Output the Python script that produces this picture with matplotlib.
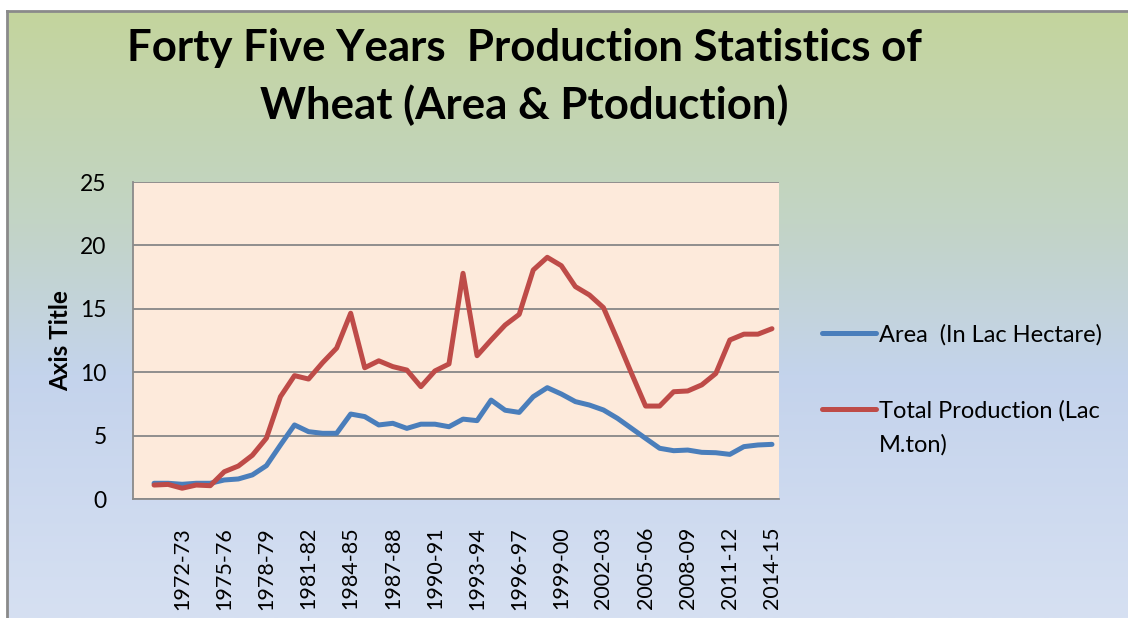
import numpy as np
import matplotlib.pyplot as plt
from matplotlib.colors import LinearSegmentedColormap

years = [f"{y}-{str(y + 1)[-2:]}" for y in range(1970, 2015)]

area = [1.24, 1.24, 1.16, 1.24, 1.24, 1.5, 1.58, 1.9, 2.63, 4.26,
        5.84, 5.31, 5.18, 5.18, 6.7, 6.5, 5.84, 5.97, 5.57, 5.9,
        5.9, 5.7, 6.3, 6.18, 7.8, 7.0, 6.83, 8.07, 8.78, 8.28,
        7.68, 7.41, 7.02, 6.36, 5.57, 4.78, 4.0, 3.81, 3.86, 3.68,
        3.65, 3.52, 4.13, 4.26, 4.31]

production = [1.1, 1.15, 0.85, 1.1, 1.05, 2.15, 2.6, 3.45, 4.8, 8.07,
              9.73, 9.46, 10.75, 11.9, 14.65, 10.35, 10.9, 10.44, 10.17, 8.86,
              10.1, 10.65, 17.8, 11.3, 12.54, 13.72, 14.56, 18.06, 19.06, 18.4,
              16.75, 16.09, 15.09, 12.54, 9.9, 7.33, 7.33, 8.46, 8.52, 9.0,
              9.9, 12.54, 13.0, 13.0, 13.43]

yticks = [0, 5, 10, 15, 20, 25]

font = "Lato"
fig = plt.figure(figsize=(11.28, 6.18), dpi=100)

# gradient background of the chart area
bg = fig.add_axes([7 / 1128, 0, 1 - 7 / 1128, 1 - 11 / 618], zorder=-10)
cmap = LinearSegmentedColormap.from_list(
    "bg", [(0.0, "#c4d59d"), (0.35, "#c2d4c6"), (0.6, "#c4d3ec"), (1.0, "#d6e0f2")])
bg.imshow(np.linspace(0, 1, 256).reshape(-1, 1), aspect="auto", cmap=cmap,
          extent=[0, 1, 0, 1], origin="upper")
bg.set_xticks([])
bg.set_yticks([])
for side in ["right", "bottom"]:
    bg.spines[side].set_visible(False)
for side in ["left", "top"]:
    bg.spines[side].set_color("#8a8a8a")
    bg.spines[side].set_linewidth(2)

ax = fig.add_axes([133 / 1128, 1 - 499 / 618, (779 - 133) / 1128, (499 - 182) / 618])
ax.set_facecolor("#fdeadb")
x = np.arange(1, len(years) + 1)
ax.plot(x, area, color="#4a7ebb", lw=3.6, solid_capstyle="round",
        label="Area  (In Lac Hectare)")
ax.plot(x, production, color="#be4b48", lw=3.6, solid_capstyle="round",
        label="Total Production (Lac")

ax.set_xlim(-0.5, len(years) + 0.5)
ax.set_ylim(0, 25)
ax.set_yticks(yticks)
ax.set_yticklabels([str(v) for v in yticks], fontsize=16.5, family=font)
tick_pos = x[2::3]
ax.set_xticks(tick_pos)
ax.set_xticklabels([years[i - 1] for i in tick_pos], rotation=90,
                   fontsize=15.5, family=font)
ax.tick_params(length=0)
ax.tick_params(axis="x", pad=20)
ax.tick_params(axis="y", pad=19)
ax.grid(axis="y", color="#878787", lw=1.3)
ax.set_axisbelow(True)
for side in ax.spines:
    ax.spines[side].set_color("#8a8a8a")
    ax.spines[side].set_linewidth(1.3)
ax.spines["right"].set_visible(False)
ax.spines["top"].set_visible(False)

ax.set_ylabel("Axis Title", fontsize=17.5, fontweight="bold", family=font, labelpad=6)

fig.text(0.465, 0.922, "Forty Five Years  Production Statistics of",
         ha="center", va="center", fontsize=31.5, fontweight="bold", family=font)
fig.text(0.465, 0.830, "Wheat (Area & Ptoduction)",
         ha="center", va="center", fontsize=31.5, fontweight="bold", family=font)

leg = fig.legend(loc="upper left", bbox_to_anchor=(0.71, 0.51), frameon=False,
                 prop={"family": font, "size": 17}, handlelength=2.3,
                 handletextpad=0.12, labelspacing=2.3)

# wrapped second line of the production label, Excel style
fig.canvas.draw()
bb = leg.get_texts()[1].get_window_extent()
fig.text(bb.x0 / fig.bbox.width, (bb.y0 - 36) / fig.bbox.height + 0.003, "M.ton)",
         ha="left", va="bottom", fontsize=17, family=font)

fig.savefig("out.png", dpi=100)
